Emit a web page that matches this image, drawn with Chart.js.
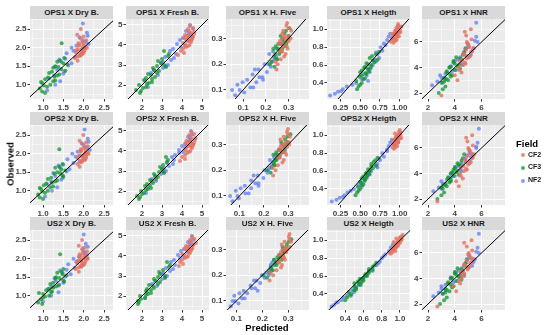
<!DOCTYPE html>
<html>
<head>
<meta charset="utf-8">
<script src="https://cdn.jsdelivr.net/npm/chart.js@4.4.0/dist/chart.umd.min.js"></script>
<style>
body { margin: 0; background: #fff; }
#wrap { position: relative; width: 550px; height: 335px; overflow: hidden; font-family: "Liberation Sans", Arial, sans-serif; }
.strip { position: absolute; background: #D9D9D9; color: #1A1A1A; font-weight: bold; font-size: 8px; text-align: center; height: 13px; line-height: 13px; white-space: nowrap; overflow: hidden; }
canvas { position: absolute; }
.axtitle { position: absolute; font-weight: bold; font-size: 9.5px; color: #000; white-space: nowrap; }
.leg { position: absolute; font-size: 7px; font-weight: bold; color: #1A1A1A; }
.dot { position: absolute; width: 4px; height: 4px; border-radius: 50%; }
</style>
</head>
<body>
<div id="wrap"></div>
<script>
// facets
const models = ['OPS1', 'OPS2', 'US2'];
const traits = ['Dry B.', 'Fresh B.', 'H. Five', 'Heigth', 'HNR'];
const fields = ['CF2', 'CF3', 'NF2'];
const fieldColors = ['rgba(228,112,96,0.8)', 'rgba(15,150,45,0.75)', 'rgba(95,125,245,0.75)'];

// observed values (same for all three models)
const obsDryCF2 = [1.72, 1.85, 1.95, 2.02, 1.88, 2.10, 1.98, 2.25, 1.80, 2.05, 1.92, 2.35, 1.76, 2.00, 2.15, 1.90, 2.50, 1.83, 2.08, 1.97, 1.65, 2.20, 1.93, 2.03, 1.86, 2.12, 2.30, 1.78];
const obsDryCF3 = [0.82, 0.95, 1.05, 1.12, 1.20, 1.28, 1.35, 1.42, 1.50, 1.58, 0.90, 1.00, 1.15, 1.25, 1.38, 1.46, 1.55, 1.65, 1.10, 2.12, 0.78, 1.08, 1.22, 1.32, 1.48, 1.62, 0.98, 1.72];
const obsDryNF2 = [0.85, 1.00, 1.18, 1.30, 1.40, 1.52, 1.62, 1.75, 1.85, 1.95, 2.05, 2.15, 2.28, 2.40, 2.65, 1.10, 1.48, 1.70, 1.92, 2.20, 1.25, 1.58, 1.80, 2.00, 2.10, 1.35, 1.68, 2.32];

const obsFreCF2 = [3.80, 3.95, 4.05, 4.15, 4.25, 4.35, 4.45, 4.55, 4.70, 4.85, 3.90, 4.10, 4.20, 4.30, 4.40, 4.50, 4.60, 3.60, 4.95, 4.25, 3.70, 4.00, 4.38, 4.65, 4.80, 3.50, 4.28, 4.48];
const obsFreCF3 = [1.60, 1.75, 1.90, 2.00, 2.10, 2.25, 2.40, 2.55, 2.70, 2.85, 3.00, 3.20, 3.45, 3.70, 1.85, 2.15, 2.35, 2.60, 2.90, 3.30, 1.70, 2.05, 2.50, 2.75, 3.10, 3.55, 2.30, 2.95];
const obsFreNF2 = [1.90, 2.20, 2.50, 2.75, 2.95, 3.10, 3.25, 3.40, 3.55, 3.70, 3.90, 4.05, 4.20, 4.35, 4.50, 4.70, 5.00, 3.00, 3.80, 4.40, 2.60, 3.35, 3.95, 4.25, 4.60, 3.15, 4.80, 2.85];

const obsHfCF2 = [0.20, 0.23, 0.25, 0.27, 0.28, 0.29, 0.30, 0.31, 0.32, 0.33, 0.35, 0.26, 0.24, 0.28, 0.30, 0.22, 0.34, 0.27, 0.29, 0.18, 0.25, 0.31, 0.26, 0.29, 0.33, 0.21, 0.30, 0.36];
const obsHfCF3 = [0.19, 0.21, 0.22, 0.24, 0.25, 0.26, 0.27, 0.28, 0.29, 0.30, 0.31, 0.32, 0.23, 0.26, 0.28, 0.30, 0.33, 0.25, 0.27, 0.20, 0.24, 0.29, 0.31, 0.22, 0.27, 0.34, 0.26, 0.28];
const obsHfNF2 = [0.08, 0.09, 0.10, 0.11, 0.12, 0.13, 0.14, 0.15, 0.16, 0.17, 0.18, 0.19, 0.20, 0.22, 0.24, 0.26, 0.28, 0.13, 0.11, 0.21, 0.15, 0.18, 0.23, 0.10, 0.25, 0.14, 0.20, 0.30];

const obsHtCF2 = [0.85, 0.88, 0.90, 0.92, 0.94, 0.96, 0.98, 1.00, 1.02, 1.04, 0.87, 0.91, 0.93, 0.95, 0.97, 0.99, 1.01, 0.89, 0.96, 1.06, 0.86, 0.94, 0.98, 1.03, 0.90, 0.95, 1.00, 0.92];
const obsHtCF3 = [0.33, 0.38, 0.42, 0.45, 0.48, 0.50, 0.52, 0.55, 0.57, 0.60, 0.62, 0.65, 0.68, 0.72, 0.40, 0.47, 0.53, 0.58, 0.63, 0.70, 0.36, 0.44, 0.51, 0.56, 0.61, 0.66, 0.75, 0.54];
const obsHtNF2 = [0.26, 0.28, 0.30, 0.33, 0.36, 0.40, 0.44, 0.48, 0.52, 0.56, 0.60, 0.64, 0.68, 0.72, 0.76, 0.80, 0.84, 0.88, 0.92, 0.42, 0.31, 0.38, 0.50, 0.58, 0.66, 0.74, 0.82, 0.95];

const obsHnCF2 = [3.00, 3.60, 4.00, 4.30, 4.60, 4.80, 5.00, 5.20, 5.40, 5.60, 5.90, 6.20, 6.80, 4.50, 4.90, 5.10, 5.30, 4.70, 1.80, 6.50, 3.40, 4.20, 5.50, 6.00, 4.40, 5.80, 3.80, 7.00];
const obsHnCF3 = [2.00, 2.50, 2.80, 3.00, 3.20, 3.40, 3.60, 3.80, 4.00, 4.20, 4.40, 4.60, 4.80, 5.00, 3.30, 3.70, 4.10, 4.50, 2.90, 3.90, 2.30, 3.50, 4.30, 4.70, 5.20, 3.10, 4.05, 5.50];
const obsHnNF2 = [2.60, 2.90, 3.10, 3.40, 3.70, 4.00, 4.30, 4.60, 4.90, 5.20, 5.50, 5.80, 6.10, 7.50, 3.20, 3.80, 4.50, 5.00, 5.40, 6.00, 2.80, 3.50, 4.20, 4.80, 5.30, 5.60, 6.40, 4.10];

// predicted values, OPS1
const ops1DryCF2 = [1.78, 1.95, 1.86, 2.05, 1.80, 2.00, 1.97, 1.92, 1.90, 1.88, 2.02, 1.84, 1.86, 2.08, 1.96, 1.93, 1.93, 1.97, 1.90, 2.03, 1.85, 2.06, 1.82, 1.99, 2.00, 1.87, 2.00, 1.92];
const ops1DryCF3 = [0.98, 1.10, 0.98, 1.30, 1.12, 1.40, 1.22, 1.45, 1.30, 1.50, 0.92, 1.18, 1.05, 1.35, 1.55, 1.25, 1.60, 1.42, 1.25, 1.46, 1.05, 0.95, 1.28, 1.15, 1.38, 1.35, 1.02, 1.52];
const ops1DryNF2 = [1.10, 1.30, 1.15, 1.50, 1.35, 1.62, 1.45, 1.80, 1.58, 1.95, 1.82, 2.05, 1.90, 2.08, 1.98, 1.42, 1.30, 1.55, 1.75, 1.98, 1.28, 1.70, 1.92, 1.70, 2.12, 1.52, 1.40, 2.10];
const ops1FreCF2 = [4.05, 4.30, 4.15, 4.45, 4.20, 4.50, 4.30, 4.60, 4.35, 4.55, 4.20, 4.05, 4.40, 4.25, 4.55, 4.15, 4.45, 4.10, 4.40, 4.35, 3.95, 4.38, 4.10, 4.62, 4.30, 3.80, 4.50, 4.28];
const ops1FreCF3 = [1.90, 1.70, 2.20, 1.85, 2.35, 2.10, 2.65, 2.30, 2.85, 2.55, 3.10, 2.80, 3.30, 3.10, 2.05, 2.50, 2.20, 2.75, 3.20, 3.00, 1.95, 2.25, 2.45, 2.60, 2.95, 3.35, 2.50, 2.75];
const ops1FreNF2 = [2.30, 2.15, 2.80, 2.60, 3.20, 2.95, 3.45, 3.15, 3.70, 3.40, 3.95, 3.75, 4.30, 4.05, 4.45, 4.20, 4.40, 3.30, 3.55, 4.50, 2.45, 3.60, 4.15, 3.90, 4.35, 3.05, 4.55, 3.05];
const ops1HfCF2 = [0.252, 0.281, 0.262, 0.292, 0.271, 0.301, 0.284, 0.298, 0.273, 0.312, 0.291, 0.268, 0.287, 0.258, 0.309, 0.266, 0.302, 0.279, 0.262, 0.247, 0.272, 0.283, 0.296, 0.289, 0.277, 0.243, 0.271, 0.294];
const ops1HfCF3 = [0.238, 0.225, 0.251, 0.242, 0.268, 0.249, 0.281, 0.263, 0.292, 0.274, 0.301, 0.282, 0.236, 0.272, 0.255, 0.298, 0.289, 0.262, 0.244, 0.218, 0.259, 0.277, 0.265, 0.247, 0.285, 0.304, 0.233, 0.291];
const ops1HfNF2 = [0.065, 0.105, 0.085, 0.132, 0.075, 0.158, 0.118, 0.185, 0.142, 0.205, 0.168, 0.222, 0.195, 0.238, 0.215, 0.255, 0.268, 0.098, 0.145, 0.228, 0.172, 0.152, 0.245, 0.052, 0.232, 0.188, 0.212, 0.276];
const ops1HtCF2 = [0.92, 0.96, 0.90, 0.97, 0.93, 0.99, 0.95, 1.00, 0.96, 0.98, 0.94, 0.91, 0.97, 0.93, 1.01, 0.95, 0.99, 0.92, 0.97, 0.98, 0.89, 0.96, 0.94, 1.02, 0.95, 0.91, 0.97, 0.99];
const ops1HtCF3 = [0.46, 0.50, 0.45, 0.56, 0.52, 0.58, 0.50, 0.60, 0.55, 0.64, 0.58, 0.66, 0.62, 0.70, 0.52, 0.49, 0.61, 0.56, 0.68, 0.65, 0.48, 0.54, 0.57, 0.63, 0.60, 0.72, 0.74, 0.52];
const ops1HtNF2 = [0.12, 0.18, 0.22, 0.28, 0.33, 0.45, 0.52, 0.58, 0.62, 0.60, 0.66, 0.70, 0.74, 0.72, 0.78, 0.76, 0.80, 0.84, 0.86, 0.60, 0.26, 0.40, 0.54, 0.64, 0.68, 0.70, 0.82, 0.88];
const ops1HnCF2 = [4.20, 4.50, 4.30, 4.80, 4.55, 5.05, 4.70, 5.20, 4.85, 5.10, 4.95, 5.25, 4.75, 4.40, 5.15, 4.65, 5.30, 4.90, 3.00, 4.85, 4.00, 4.60, 5.40, 4.90, 4.75, 5.00, 4.35, 5.20];
const ops1HnCF3 = [2.80, 3.30, 3.00, 3.50, 3.20, 3.80, 3.40, 4.00, 3.60, 4.30, 3.90, 4.50, 4.10, 4.60, 3.70, 3.40, 4.20, 3.90, 3.20, 4.40, 3.10, 3.60, 4.00, 4.40, 4.70, 3.30, 3.70, 4.80];
const ops1HnNF2 = [2.30, 2.70, 3.40, 2.90, 3.80, 3.60, 4.50, 4.20, 4.90, 4.70, 5.40, 5.00, 5.50, 5.60, 3.00, 4.10, 4.00, 5.20, 4.80, 5.70, 3.10, 3.30, 4.60, 4.40, 5.30, 5.00, 5.60, 3.70];

// predicted values, OPS2
const ops2DryCF2 = [1.85, 2.00, 1.90, 2.10, 1.86, 2.05, 2.02, 1.98, 1.95, 1.92, 2.06, 1.90, 1.92, 2.12, 2.00, 1.97, 1.99, 2.03, 1.94, 2.07, 1.90, 2.10, 1.88, 2.04, 2.05, 1.93, 2.06, 1.96];
const ops2DryCF3 = [0.92, 1.05, 0.95, 1.25, 1.08, 1.35, 1.20, 1.48, 1.35, 1.45, 0.88, 1.12, 1.02, 1.30, 1.50, 1.28, 1.55, 1.40, 1.18, 1.40, 1.00, 0.92, 1.22, 1.12, 1.42, 1.30, 0.98, 1.48];
const ops2DryNF2 = [1.05, 1.22, 1.10, 1.45, 1.30, 1.58, 1.42, 1.75, 1.60, 1.98, 1.85, 2.08, 1.95, 2.10, 2.02, 1.35, 1.25, 1.50, 1.80, 2.02, 1.20, 1.65, 1.90, 1.72, 2.15, 1.48, 1.38, 2.12];
const ops2FreCF2 = [4.15, 4.35, 4.20, 4.50, 4.28, 4.55, 4.38, 4.65, 4.40, 4.60, 4.25, 4.12, 4.45, 4.30, 4.60, 4.22, 4.50, 4.15, 4.48, 4.40, 4.00, 4.42, 4.18, 4.68, 4.36, 3.90, 4.55, 4.32];
const ops2FreCF3 = [1.85, 1.75, 2.10, 1.95, 2.30, 2.15, 2.55, 2.40, 2.80, 2.60, 3.05, 2.90, 3.25, 3.20, 2.00, 2.45, 2.25, 2.70, 3.10, 3.05, 1.90, 2.20, 2.50, 2.65, 3.00, 3.30, 2.40, 2.85];
const ops2FreNF2 = [2.20, 2.30, 2.70, 2.70, 3.10, 3.00, 3.35, 3.25, 3.60, 3.50, 3.85, 3.85, 4.20, 4.15, 4.40, 4.30, 4.45, 3.20, 3.65, 4.45, 2.50, 3.55, 4.05, 4.00, 4.40, 3.10, 4.50, 2.95];
const ops2HfCF2 = [0.248, 0.276, 0.258, 0.287, 0.275, 0.296, 0.281, 0.302, 0.268, 0.307, 0.295, 0.263, 0.282, 0.262, 0.304, 0.258, 0.298, 0.274, 0.268, 0.238, 0.266, 0.289, 0.292, 0.284, 0.281, 0.236, 0.276, 0.299];
const ops2HfCF3 = [0.228, 0.232, 0.245, 0.248, 0.262, 0.255, 0.276, 0.268, 0.286, 0.279, 0.296, 0.287, 0.241, 0.266, 0.261, 0.293, 0.296, 0.258, 0.251, 0.212, 0.252, 0.282, 0.271, 0.241, 0.279, 0.309, 0.239, 0.286];
const ops2HfNF2 = [0.072, 0.098, 0.092, 0.125, 0.085, 0.148, 0.122, 0.178, 0.148, 0.198, 0.175, 0.215, 0.202, 0.232, 0.225, 0.248, 0.262, 0.105, 0.138, 0.222, 0.165, 0.158, 0.238, 0.062, 0.242, 0.178, 0.218, 0.272];
const ops2HtCF2 = [0.93, 0.97, 0.92, 0.98, 0.95, 1.00, 0.96, 1.01, 0.94, 0.99, 0.95, 0.93, 0.98, 0.95, 1.02, 0.97, 0.98, 0.93, 0.96, 1.00, 0.91, 0.97, 0.95, 1.01, 0.94, 0.92, 0.99, 0.98];
const ops2HtCF3 = [0.44, 0.48, 0.47, 0.54, 0.50, 0.56, 0.52, 0.59, 0.57, 0.62, 0.60, 0.64, 0.64, 0.69, 0.50, 0.51, 0.58, 0.58, 0.66, 0.67, 0.46, 0.52, 0.55, 0.61, 0.62, 0.70, 0.72, 0.54];
const ops2HtNF2 = [0.14, 0.20, 0.24, 0.30, 0.34, 0.42, 0.48, 0.55, 0.58, 0.62, 0.64, 0.72, 0.72, 0.75, 0.80, 0.78, 0.84, 0.86, 0.88, 0.52, 0.28, 0.38, 0.56, 0.62, 0.70, 0.74, 0.84, 0.90];
const ops2HnCF2 = [4.30, 4.60, 4.40, 4.90, 4.65, 5.10, 4.80, 5.30, 4.95, 5.20, 5.05, 5.35, 4.85, 4.50, 5.20, 4.75, 5.35, 5.00, 2.70, 4.95, 4.10, 4.70, 5.45, 5.00, 4.85, 5.10, 4.45, 5.30];
const ops2HnCF3 = [2.70, 3.20, 3.10, 3.40, 3.30, 3.70, 3.50, 3.90, 3.70, 4.20, 4.00, 4.40, 4.20, 4.50, 3.60, 3.50, 4.10, 4.00, 3.00, 4.30, 3.00, 3.70, 3.90, 4.30, 4.60, 3.20, 3.80, 4.70];
const ops2HnNF2 = [2.40, 2.80, 3.30, 3.00, 3.70, 3.70, 4.40, 4.30, 4.80, 4.80, 5.30, 5.10, 5.60, 5.80, 3.10, 4.00, 4.10, 5.10, 4.90, 5.60, 3.00, 3.40, 4.50, 4.50, 5.20, 5.10, 5.70, 3.80];

// predicted values, US2
const us2DryCF2 = [1.80, 1.98, 1.88, 2.08, 1.84, 2.02, 1.95, 1.96, 1.92, 1.90, 2.04, 1.88, 1.88, 2.10, 1.98, 1.95, 1.96, 2.00, 1.92, 2.05, 1.88, 2.08, 1.85, 2.01, 2.02, 1.90, 2.03, 1.94];
const us2DryCF3 = [0.88, 1.00, 1.00, 1.22, 1.15, 1.38, 1.25, 1.50, 1.32, 1.48, 0.95, 1.15, 1.08, 1.32, 1.52, 1.30, 1.58, 1.45, 1.20, 1.42, 0.98, 0.90, 1.25, 1.18, 1.40, 1.35, 1.05, 1.50];
const us2DryNF2 = [1.00, 1.20, 1.12, 1.40, 1.32, 1.55, 1.48, 1.78, 1.62, 1.92, 1.88, 2.02, 1.98, 2.05, 2.00, 1.38, 1.28, 1.58, 1.82, 2.00, 1.22, 1.68, 1.95, 1.75, 2.08, 1.50, 1.42, 2.10];
const us2FreCF2 = [4.00, 4.25, 4.10, 4.40, 4.25, 4.48, 4.35, 4.58, 4.42, 4.62, 4.15, 4.00, 4.35, 4.28, 4.52, 4.20, 4.55, 4.05, 4.50, 4.32, 3.90, 4.30, 4.15, 4.70, 4.40, 3.85, 4.45, 4.30];
const us2FreCF3 = [1.80, 1.80, 2.15, 1.90, 2.30, 2.20, 2.60, 2.35, 2.90, 2.60, 3.15, 2.85, 3.35, 3.25, 1.95, 2.45, 2.25, 2.80, 3.15, 3.05, 1.85, 2.20, 2.55, 2.70, 2.90, 3.40, 2.45, 2.80];
const us2FreNF2 = [2.15, 2.25, 2.75, 2.65, 3.15, 3.00, 3.40, 3.20, 3.65, 3.45, 3.90, 3.80, 4.25, 4.10, 4.45, 4.30, 4.50, 3.25, 3.60, 4.40, 2.50, 3.55, 4.10, 3.95, 4.40, 3.05, 4.55, 3.00];
const us2HfCF2 = [0.242, 0.272, 0.265, 0.283, 0.279, 0.291, 0.288, 0.306, 0.275, 0.311, 0.302, 0.268, 0.276, 0.267, 0.298, 0.255, 0.305, 0.281, 0.272, 0.228, 0.262, 0.292, 0.287, 0.291, 0.286, 0.232, 0.281, 0.305];
const us2HfCF3 = [0.218, 0.228, 0.241, 0.255, 0.258, 0.262, 0.272, 0.274, 0.282, 0.288, 0.292, 0.295, 0.232, 0.275, 0.266, 0.286, 0.302, 0.252, 0.258, 0.205, 0.246, 0.285, 0.278, 0.235, 0.272, 0.312, 0.245, 0.279];
const us2HfNF2 = [0.078, 0.108, 0.095, 0.122, 0.092, 0.142, 0.128, 0.172, 0.155, 0.192, 0.178, 0.208, 0.198, 0.225, 0.232, 0.245, 0.265, 0.112, 0.132, 0.215, 0.158, 0.168, 0.235, 0.085, 0.238, 0.182, 0.225, 0.278];
const us2HtCF2 = [0.90, 0.95, 0.93, 0.96, 0.94, 0.98, 0.97, 0.99, 0.96, 1.01, 0.92, 0.94, 0.96, 0.95, 1.00, 0.98, 1.02, 0.91, 0.95, 1.03, 0.88, 0.98, 0.93, 1.00, 0.92, 0.96, 1.01, 0.94];
const us2HtCF3 = [0.40, 0.46, 0.44, 0.52, 0.50, 0.57, 0.50, 0.60, 0.56, 0.64, 0.62, 0.66, 0.66, 0.72, 0.47, 0.52, 0.58, 0.60, 0.65, 0.70, 0.42, 0.50, 0.55, 0.59, 0.63, 0.70, 0.74, 0.54];
const us2HtNF2 = [0.25, 0.28, 0.30, 0.36, 0.38, 0.44, 0.48, 0.52, 0.56, 0.58, 0.62, 0.66, 0.70, 0.74, 0.78, 0.80, 0.84, 0.88, 0.90, 0.50, 0.32, 0.42, 0.55, 0.60, 0.66, 0.76, 0.82, 0.92];
const us2HnCF2 = [4.10, 4.40, 4.50, 4.70, 4.60, 5.00, 4.80, 5.15, 4.90, 5.25, 5.00, 5.30, 4.70, 4.45, 5.10, 4.70, 5.25, 4.95, 2.70, 4.90, 3.90, 4.55, 5.35, 5.05, 4.70, 5.05, 4.30, 5.25];
const us2HnCF3 = [2.90, 3.40, 3.10, 3.60, 3.30, 3.90, 3.50, 4.10, 3.70, 4.40, 4.00, 4.60, 4.20, 4.70, 3.80, 3.50, 4.30, 4.00, 3.30, 4.50, 3.20, 3.70, 4.10, 4.50, 4.80, 3.40, 3.80, 4.90];
const us2HnNF2 = [2.40, 2.80, 3.30, 3.00, 3.90, 3.70, 4.60, 4.30, 5.00, 4.80, 5.50, 5.10, 5.60, 5.80, 3.00, 4.20, 4.10, 5.30, 4.90, 5.80, 3.10, 3.30, 4.70, 4.50, 5.40, 5.10, 5.70, 3.70];

// axis limits (free scales per facet)
const xLimOPS1 = [[0.68, 2.72], [1.2, 5.35], [0.025, 0.39], [0.08, 1.13], [1.55, 7.75]];
const xLimOPS2 = [[0.68, 2.72], [1.2, 5.35], [0.045, 0.385], [0.08, 1.13], [1.55, 7.75]];
const xLimUS2 = [[0.68, 2.72], [1.2, 5.35], [0.06, 0.38], [0.2, 1.11], [1.55, 7.75]];
const yLims = [[0.62, 2.77], [1.3, 5.3], [0.065, 0.376], [0.22, 1.115], [1.53, 7.8]];

// tick values and labels
const ticksDry = [1.0, 1.5, 2.0, 2.5], labDry = ['1.0', '1.5', '2.0', '2.5'];
const ticksFre = [2, 3, 4, 5], labFre = ['2', '3', '4', '5'];
const ticksHf = [0.1, 0.2, 0.3], labHf = ['0.1', '0.2', '0.3'];
const ticksHtX = [0.25, 0.5, 0.75, 1.0], labHtX = ['0.25', '0.50', '0.75', '1.00'];
const ticksHtXUS2 = [0.4, 0.6, 0.8, 1.0], labHtXUS2 = ['0.4', '0.6', '0.8', '1.0'];
const ticksHtY = [0.4, 0.6, 0.8, 1.0], labHtY = ['0.4', '0.6', '0.8', '1.0'];
const ticksHn = [2, 4, 6], labHn = ['2', '4', '6'];

// tables built from the arrays above
const obsAll = [
  [obsDryCF2, obsDryCF3, obsDryNF2],
  [obsFreCF2, obsFreCF3, obsFreNF2],
  [obsHfCF2, obsHfCF3, obsHfNF2],
  [obsHtCF2, obsHtCF3, obsHtNF2],
  [obsHnCF2, obsHnCF3, obsHnNF2]
];
const predAll = [
  [[ops1DryCF2, ops1DryCF3, ops1DryNF2], [ops1FreCF2, ops1FreCF3, ops1FreNF2], [ops1HfCF2, ops1HfCF3, ops1HfNF2], [ops1HtCF2, ops1HtCF3, ops1HtNF2], [ops1HnCF2, ops1HnCF3, ops1HnNF2]],
  [[ops2DryCF2, ops2DryCF3, ops2DryNF2], [ops2FreCF2, ops2FreCF3, ops2FreNF2], [ops2HfCF2, ops2HfCF3, ops2HfNF2], [ops2HtCF2, ops2HtCF3, ops2HtNF2], [ops2HnCF2, ops2HnCF3, ops2HnNF2]],
  [[us2DryCF2, us2DryCF3, us2DryNF2], [us2FreCF2, us2FreCF3, us2FreNF2], [us2HfCF2, us2HfCF3, us2HfNF2], [us2HtCF2, us2HtCF3, us2HtNF2], [us2HnCF2, us2HnCF3, us2HnNF2]]
];
const xLims = [xLimOPS1, xLimOPS2, xLimUS2];
const xTicks = [[ticksDry, labDry], [ticksFre, labFre], [ticksHf, labHf], [ticksHtX, labHtX], [ticksHn, labHn]];
const yTicks = [[ticksDry, labDry], [ticksFre, labFre], [ticksHf, labHf], [ticksHtY, labHtY], [ticksHn, labHn]];

// layout (pixels)
const colLeft = [30, 126, 226, 327, 422];
const panelW = 83, panelH = 80;
const stripTop = [6, 112, 217];
const panelTop = [19, 125, 230];
const yAxisW = 20, xAxisH = 13, padTop = 6, padRight = 8;

Chart.defaults.font.family = '"Liberation Sans", Arial, sans-serif';
Chart.defaults.font.size = 8;
Chart.defaults.font.weight = 'bold';

const wrap = document.getElementById('wrap');

// gray panel background
const panelBg = {
  id: 'panelBg',
  beforeDraw(chart) {
    const a = chart.chartArea, ctx = chart.ctx;
    ctx.save();
    ctx.fillStyle = '#EBEBEB';
    ctx.fillRect(a.left, a.top, a.right - a.left, a.bottom - a.top);
    ctx.restore();
  }
};

// major + minor breaks like ggplot
function makeTicks(scale, major, labs) {
  const step = major[1] - major[0];
  const out = [];
  for (let k = -2; k <= major.length + 1; k++) {
    const v = major[0] - step / 2 + k * step;
    if (v >= scale.min && v <= scale.max) out.push({ value: v, minor: true });
  }
  major.forEach((v, i) => { if (v >= scale.min && v <= scale.max) out.push({ value: v, lab: labs[i] }); });
  out.sort((a, b) => a.value - b.value);
  scale.ticks = out;
}

function axisOpts(lim, tk, isX) {
  return {
    type: 'linear',
    min: lim[0],
    max: lim[1],
    afterBuildTicks: s => makeTicks(s, tk[0], tk[1]),
    afterFit: s => { if (isX) s.height = xAxisH; else s.width = yAxisW; },
    border: { display: false },
    grid: {
      color: '#FFFFFF',
      lineWidth: c => (c.tick && c.tick.minor) ? 0.5 : 1,
      drawTicks: true,
      tickLength: 2.5,
      tickWidth: 1,
      tickColor: c => (c.tick && c.tick.minor) ? 'rgba(0,0,0,0)' : '#333333'
    },
    ticks: {
      autoSkip: false,
      maxRotation: 0,
      minRotation: 0,
      padding: 1,
      color: '#444444',
      font: { size: 8, weight: 'bold' },
      callback: (v, i, t) => t[i].lab || ''
    }
  };
}

models.forEach((m, r) => {
  traits.forEach((t, c) => {
    // strip
    const st = document.createElement('div');
    st.className = 'strip';
    st.style.left = colLeft[c] + 'px';
    st.style.top = stripTop[r] + 'px';
    st.style.width = panelW + 'px';
    st.textContent = m + ' X ' + t;
    wrap.appendChild(st);

    const xl = xLims[r][c], yl = yLims[c];
    const xt = (r === 2 && c === 3) ? [ticksHtXUS2, labHtXUS2] : xTicks[c];
    const lo = Math.min(xl[0], yl[0]), hi = Math.max(xl[1], yl[1]);

    const cv = document.createElement('canvas');
    const w = yAxisW + panelW + padRight, h = padTop + panelH + xAxisH;
    cv.width = w; cv.height = h;
    cv.style.width = w + 'px'; cv.style.height = h + 'px';
    cv.style.left = (colLeft[c] - yAxisW) + 'px';
    cv.style.top = (panelTop[r] - padTop) + 'px';
    wrap.appendChild(cv);

    // 1:1 line first so it is drawn on top
    const datasets = [{
      data: [{ x: lo, y: lo }, { x: hi, y: hi }],
      showLine: true,
      borderColor: '#000000',
      borderWidth: 1,
      pointRadius: 0
    }];
    fields.forEach((f, k) => {
      const obs = obsAll[c][k], pred = predAll[r][c][k];
      datasets.push({
        label: f,
        data: pred.map((p, i) => ({ x: p, y: obs[i] })),
        backgroundColor: fieldColors[k],
        borderWidth: 0,
        pointRadius: 2
      });
    });

    new Chart(cv, {
      type: 'scatter',
      data: { datasets: datasets },
      options: {
        responsive: false,
        animation: false,
        events: [],
        devicePixelRatio: 1,
        layout: { padding: { top: padTop, right: padRight, left: 0, bottom: 0 } },
        plugins: { legend: { display: false }, tooltip: { enabled: false } },
        scales: { x: axisOpts(xl, xt, true), y: axisOpts(yl, yTicks[c], false) }
      },
      plugins: [panelBg]
    });
  });
});

// axis titles
const yt = document.createElement('div');
yt.className = 'axtitle';
yt.textContent = 'Observed';
yt.style.left = '10px';
yt.style.top = '164px';
yt.style.transform = 'translate(-50%,-50%) rotate(-90deg)';
wrap.appendChild(yt);

const xtl = document.createElement('div');
xtl.className = 'axtitle';
xtl.textContent = 'Predicted';
xtl.style.left = '267px';
xtl.style.top = '327px';
xtl.style.transform = 'translate(-50%,-50%)';
wrap.appendChild(xtl);

// legend
const lt = document.createElement('div');
lt.className = 'axtitle';
lt.textContent = 'Field';
lt.style.left = '516px';
lt.style.top = '138px';
wrap.appendChild(lt);
fields.forEach((f, k) => {
  const y = 155 + k * 12.8;
  const d = document.createElement('div');
  d.className = 'dot';
  d.style.background = fieldColors[k];
  d.style.left = '521px';
  d.style.top = (y - 2) + 'px';
  wrap.appendChild(d);
  const l = document.createElement('div');
  l.className = 'leg';
  l.textContent = f;
  l.style.left = '528px';
  l.style.top = (y - 4.5) + 'px';
  wrap.appendChild(l);
});
</script>
</body>
</html>
